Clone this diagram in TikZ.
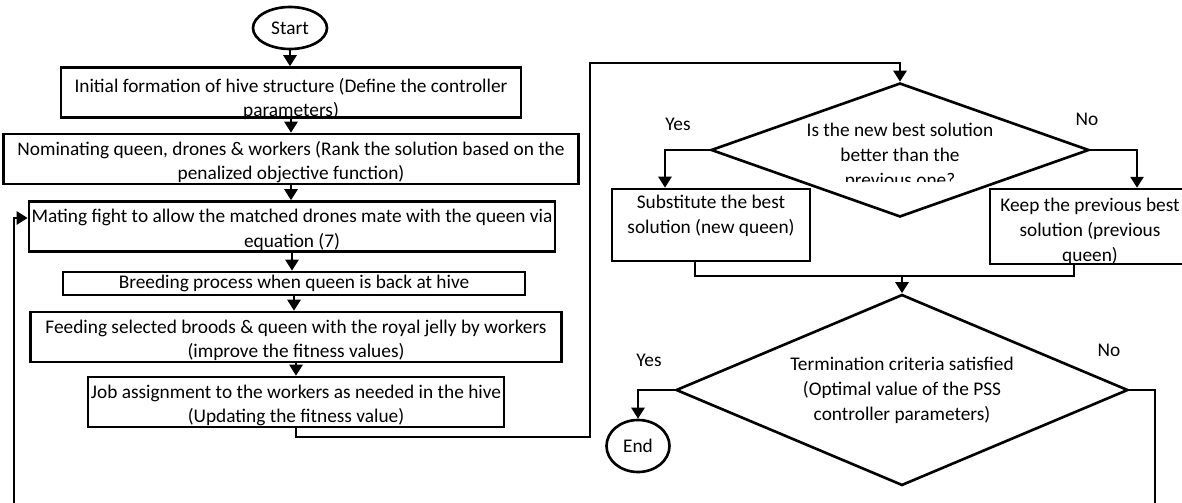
\documentclass[tikz,border=0pt]{standalone}
\usepackage{fontspec}
\setmainfont{Carlito}
\usetikzlibrary{shapes.geometric, arrows.meta, positioning}

% one pixel of the layout
\newcommand{\pu}{0.02cm}
% text of a box, moved up or down inside it
\newcommand{\boxtext}[2][0pt]{\raisebox{#1}[\height][\depth]{\begin{tabular}{@{}c@{}}#2\end{tabular}}}

\begin{document}
\begin{tikzpicture}[
        x=0.02cm, y=-0.02cm,
        line width=1.5pt,
        procbox/.style={draw, rectangle, inner sep=0pt},
        termnode/.style={draw, ellipse, inner sep=0pt, minimum width=74*\pu, minimum height=42*\pu},
        decision/.style={draw, diamond, aspect=2.4, align=center, inner sep=0pt},
        arrow/.style={-{Triangle[length=2.2mm, width=2.6mm]}},
        font=\fontsize{11}{14.2}\selectfont
    ]
    \useasboundingbox (0,0) rectangle (1182,503);

    % ==========================================
    % LEFT COLUMN: hive steps
    % ==========================================
    \node[termnode] (start) at (290,28) {Start};
    \node[procbox, minimum width=460*\pu, minimum height=49*\pu] (init) at (291,92.5)
        {\boxtext[-4pt]{Initial formation of hive structure (Define the controller\\parameters)}};
    \node[procbox, minimum width=575*\pu, minimum height=48*\pu] (rank) at (291,159)
        {\boxtext[-2pt]{Nominating queen, drones \& workers (Rank the solution based on the\\penalized objective function)}};
    \node[procbox, minimum width=526*\pu, minimum height=47*\pu] (mate) at (292,226.5)
        {\boxtext[-2pt]{Mating fight to allow the matched drones mate with the queen via\\equation (7)}};
    \node[procbox, minimum width=462*\pu, minimum height=23*\pu] (breed) at (294,283.5)
        {Breeding process when queen is back at hive};
    \node[procbox, minimum width=531*\pu, minimum height=48*\pu] (feed) at (296,337)
        {\boxtext[-2pt]{Feeding selected broods \& queen with the royal jelly by workers\\(improve the fitness values)}};
    \node[procbox, minimum width=416*\pu, minimum height=48*\pu] (job) at (296,402)
        {\boxtext[-2pt]{Job assignment to the workers as needed in the hive\\(Updating the fitness value)}};

    \draw[arrow] (start.south) -- (start.south |- init.north);
    \foreach \a/\b in {init/rank, rank/mate, mate/breed, breed/feed, feed/job}
        \draw[arrow] (\a.south) -- (\a.south |- \b.north);

    % loop back into the mating fight
    \coordinate (loopL) at (14,503);
    \draw[arrow] (loopL) |- ([yshift=8.5*\pu]mate.west);

    % ==========================================
    % RIGHT COLUMN: best solution check
    % ==========================================
    \node[decision, minimum width=378*\pu, minimum height=134*\pu] (best) at (900,150) {};
    \begin{scope}
        \clip (700,100) rectangle (1100,182);
        \node[align=center] (bestq) at (900,156) {Is the new best solution\\better than the\\previous one?};
    \end{scope}

    \coordinate (retB) at (590,437);
    \coordinate (retT) at (590,63);
    \draw[arrow] (job.south) |- (retB) -- (retT) -| (best.north);

    \node[procbox, minimum width=198*\pu, minimum height=72*\pu] (subst) at (711,225)
        {\boxtext[5.2pt]{Substitute the best\\solution (new queen)}};
    \node[procbox, minimum width=200*\pu, minimum height=71*\pu] (keep) at (1090,226.5)
        {\boxtext[-2.7pt]{Keep the previous best\\solution (previous\\queen)}};

    \node (yes1) at (678,124) {Yes};
    \node (no1) at (1087,119) {No};
    \draw[arrow] (best.west) -| ([xshift=-46*\pu]subst.north);
    \draw[arrow] (best.east) -| ([xshift=47*\pu]keep.north);

    % both branches meet again
    \coordinate (join) at (902,276);
    \draw ([xshift=-16*\pu]subst.south) |- (join) -| ([xshift=-16*\pu]keep.south);

    \node[decision, minimum width=452*\pu, minimum height=191*\pu] (term) at (902,390)
        {Termination criteria satisfied\\(Optimal value of the PSS\\controller parameters)};
    \draw[arrow] (join) -- (term.north);

    \node[termnode, minimum width=63*\pu, minimum height=52*\pu] (finish) at (638,446) {End};
    \node (yes2) at (649,360) {Yes};
    \node (no2) at (1109,350) {No};
    \draw[arrow] (term.west) -| (finish.north);

    \coordinate (loopR) at (1155,503);
    \draw (term.east) -| (loopR);

\end{tikzpicture}
\end{document}
